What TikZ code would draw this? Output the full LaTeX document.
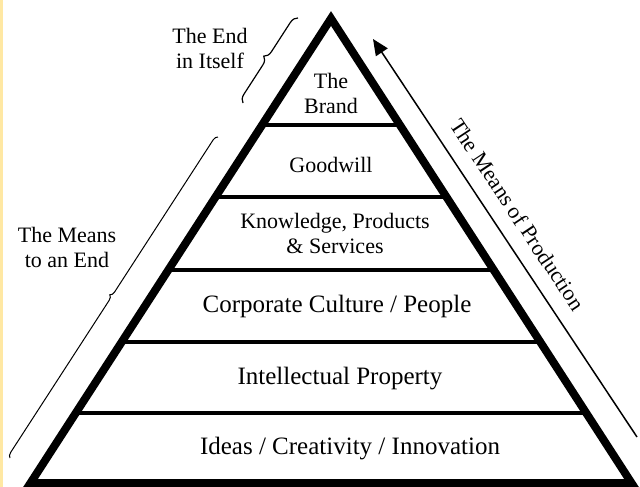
\documentclass[tikz,border=0pt]{standalone}
\usepackage{fontspec}
\setmainfont{Liberation Serif}
\usetikzlibrary{calc,arrows.meta,decorations.pathreplacing}

\definecolor{margin}{HTML}{FFE8A3}

\tikzset{
    tiertext/.style={font=\fontsize{22}{25}\selectfont, align=center, inner sep=0pt},
    bigtext/.style={tiertext, font=\fontsize{25}{28}\selectfont},
    tier/.style={line width=4pt},
    bracket/.style={decorate, decoration={brace, amplitude=#1}, line width=1.2pt},
}

\begin{document}
\begin{tikzpicture}[x=1pt, y=-1pt]
        \useasboundingbox (0,0) rectangle (640,487);
        \fill[margin] (0,0) rectangle (3,487);
        % corners of the pyramid
        \coordinate (top) at (331,18.5);
        \coordinate (bl) at (30.5,483);
        \coordinate (br) at (631.5,483);
        % the floors
        \foreach \t in {0.229,0.384,0.541,0.696,0.849} {
            \draw[tier] ($(top)!\t!(bl)$) -- ($(top)!\t!(br)$);
        }
        \draw[line width=8pt] (top) -- (bl) -- (br) -- cycle;
        \node[tiertext] (brand) at (331,93) {The\\Brand};
        \node[tiertext, anchor=base] (goodwill) at (331,172) {Goodwill};
        \node[tiertext] (knowledge) at (335,233) {Knowledge, Products\\\& Services};
        \node[bigtext, anchor=base] (culture) at (337,312) {Corporate Culture / People};
        \node[bigtext, anchor=base] (property) at (340,384) {Intellectual Property};
        \node[bigtext, anchor=base] (ideas) at (350,454) {Ideas / Creativity / Innovation};
        % left side: ends and means
        \node[tiertext] (endlabel) at (210,48) {The End\\in Itself};
        \node[tiertext] (meanslabel) at (67,247) {The Means\\to an End};
        \coordinate (endfoot) at (243,103);
        \coordinate (endhead) at (298,18);
        \coordinate (meansfoot) at (10,458);
        \coordinate (meanshead) at (218,137);
        \draw[bracket=8pt] (endfoot) -- (endhead);
        \draw[bracket=5pt, line width=1pt] (meansfoot) -- (meanshead);
        % right side arrow
        \coordinate (prodfoot) at (637,437);
        \coordinate (prodtip) at (373,39);
        \draw[line width=1.5pt, -{Triangle[length=16pt,width=14pt]}] (prodfoot) -- (prodtip)
            node[tiertext, pos=0.526, sloped, above=15pt] (production) {The Means of Production};
\end{tikzpicture}
\end{document}
